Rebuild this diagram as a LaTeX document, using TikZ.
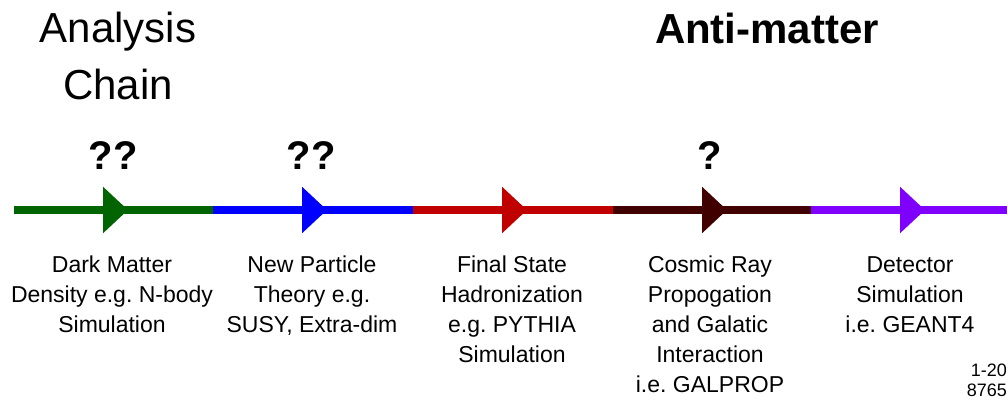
\documentclass[tikz,border=0pt]{standalone}
\usepackage{fontspec}
\setmainfont{Liberation Sans}
\usepackage{tikz}
\usetikzlibrary{arrows.meta,decorations.markings,positioning}
\definecolor{dmcolor}{RGB}{0,100,0}
\definecolor{npcolor}{RGB}{0,0,255}
\definecolor{fscolor}{RGB}{192,0,0}
\definecolor{crcolor}{RGB}{64,0,0}
\definecolor{detcolor}{RGB}{128,0,255}
\frenchspacing

\begin{document}
\begin{tikzpicture}[x=1pt, y=-1pt,
        stage/.style={line width=8pt, postaction={decorate},
            decoration={markings, mark=at position 114pt with {\arrow{Triangle[length=25pt,width=45pt]}}}},
        title/.style={font=\fontsize{42}{57}\selectfont, align=center, inner sep=0pt, anchor=north},
        query/.style={font=\fontsize{40}{48}\selectfont\bfseries, inner sep=0pt, anchor=base},
        stagetext/.style={font=\fontsize{23}{30}\selectfont, align=center, inner sep=0pt, anchor=north}
    ]
        \useasboundingbox (0,0) rectangle (1007,401);

        % boundaries of the chain
        \coordinate (s0) at (14,210);
        \coordinate (s1) at (213,210);
        \coordinate (s2) at (413,210);
        \coordinate (s3) at (613,210);
        \coordinate (s4) at (811,210);
        \coordinate (s5) at (1007,210);

        \draw[stage, dmcolor] (s0) -- (s1);
        \draw[stage, npcolor] (s1) -- (s2);
        \draw[stage, fscolor] (s2) -- (s3);
        \draw[stage, crcolor] (s3) -- (s4);
        \draw[stage, detcolor] (s4) -- (s5);

        \node[title] (chain) at (118,12) {Analysis\\Chain};
        \node[title, font=\fontsize{42}{57}\selectfont\bfseries] (anti) at (767,13) {Anti-matter};

        \node[query] (q1) at (113,170) {??};
        \node[query] (q2) at (311,170) {??};
        \node[query] (q3) at (710,170) {?};

        \node[stagetext] (dm) at (112,256) {Dark Matter\\Density e.g. N-body\\Simulation};
        \node[stagetext] (np) at (312,256) {New Particle\\Theory e.g.\\SUSY, Extra-dim};
        \node[stagetext] (fs) at (512,256) {Final State\\Hadronization\\e.g. PYTHIA\\Simulation};
        \node[stagetext] (cr) at (710,256) {Cosmic Ray\\Propogation\\and Galatic\\Interaction\\i.e. GALPROP};
        \node[stagetext] (det) at (910,256) {Detector\\Simulation\\i.e. GEANT4};

        \node[font=\fontsize{18}{20}\selectfont, align=right, inner sep=0pt, anchor=north east] (ref) at (1007,364) {1-20\\8765};
    \end{tikzpicture}
\end{document}
